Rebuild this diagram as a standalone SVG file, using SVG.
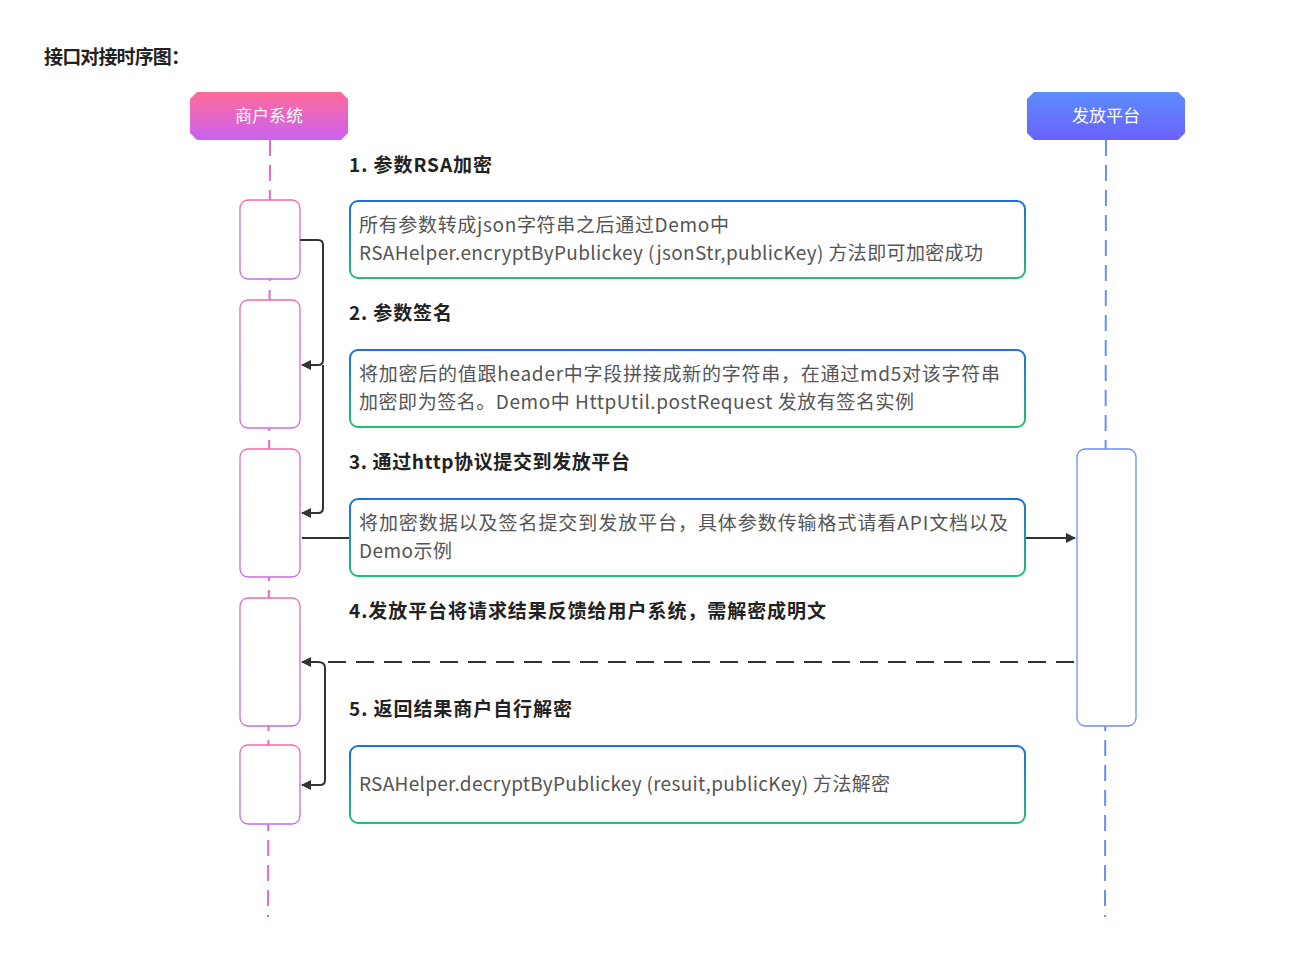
<svg xmlns="http://www.w3.org/2000/svg" width="1297" height="969" viewBox="0 0 1297 969">
<defs>
<linearGradient id="gPink" x1="0" y1="0" x2="0" y2="1"><stop offset="0" stop-color="#ff6b98"/><stop offset="1" stop-color="#c962f2"/></linearGradient>
<linearGradient id="gBlue" x1="0" y1="0" x2="0" y2="1"><stop offset="0" stop-color="#5c8cff"/><stop offset="1" stop-color="#6a62fb"/></linearGradient>
<linearGradient id="gAct" x1="0" y1="0" x2="0" y2="1"><stop offset="0" stop-color="#f06aa8"/><stop offset="1" stop-color="#c86ae6"/></linearGradient>
<linearGradient id="gBox" x1="0" y1="0" x2="0" y2="1"><stop offset="0" stop-color="#1d6ee6"/><stop offset="1" stop-color="#1fbf78"/></linearGradient>
<marker id="ah" viewBox="0 0 10 10" refX="9" refY="5" markerWidth="5" markerHeight="5" orient="auto"><path d="M0,0 L10,5 L0,10 z" fill="#333"/></marker>
</defs>
<style>
.t{font-family:"Noto Sans CJK SC","Noto Sans",sans-serif}
.h{font-size:17px;fill:#fff;text-anchor:middle}
.lbl{font-size:19px;font-weight:bold;fill:#222}
.body{font-size:19px;fill:#555}
.act{fill:#fff;stroke:url(#gAct);stroke-width:1.3}
.box{fill:#fff;stroke:url(#gBox);stroke-width:2}
.c{fill:none;stroke:#333;stroke-width:2;marker-end:url(#ah)}
</style>
<rect width="1297" height="969" fill="#fff"/>
<text class="t" x="44" y="64" font-size="19" font-weight="bold" fill="#222" textLength="146" lengthAdjust="spacing">接口对接时序图：</text>
<g id="lifelines">
<line x1="270" y1="140" x2="268" y2="917" stroke="#e86ab8" stroke-width="2" stroke-dasharray="16,9"/>
<line x1="1106" y1="140" x2="1105" y2="917" stroke="#6a8ef5" stroke-width="2" stroke-dasharray="16,9"/>
</g>
<g id="merchant"><path d="M197,92 H341 L348,99 V133 L341,140 H197 L190,133 V99 Z" fill="url(#gPink)"/><text class="t h" x="269" y="122">商户系统</text></g>
<g id="platform"><path d="M1034,92 H1178 L1185,99 V133 L1178,140 H1034 L1027,133 V99 Z" fill="url(#gBlue)"/><text class="t h" x="1106" y="122">发放平台</text></g>
<g id="activations">
<rect class="act" x="240" y="200" width="60" height="79" rx="8"/>
<rect class="act" x="240" y="300" width="60" height="128" rx="8"/>
<rect class="act" x="240" y="449" width="60" height="128" rx="8"/>
<rect class="act" x="240" y="598" width="60" height="128" rx="8"/>
<rect class="act" x="240" y="745" width="60" height="79" rx="8"/>
<rect x="1077" y="449" width="59" height="277" rx="8" fill="#fff" stroke="#6a8ef5" stroke-width="1.3"/>
</g>
<g id="step1"><text class="t lbl" x="349" y="172" textLength="143" lengthAdjust="spacing">1. 参数RSA加密</text>
<rect class="box" x="350" y="201" width="675" height="77" rx="8"/>
<text class="t body" x="359" y="232" textLength="370" lengthAdjust="spacing">所有参数转成json字符串之后通过Demo中</text>
<text class="t body" x="359" y="260" textLength="624" lengthAdjust="spacing">RSAHelper.encryptByPublickey (jsonStr,publicKey) 方法即可加密成功</text></g>
<g id="step2"><text class="t lbl" x="349" y="320" textLength="103" lengthAdjust="spacing">2. 参数签名</text>
<rect class="box" x="350" y="350" width="675" height="77" rx="8"/>
<text class="t body" x="359" y="381" textLength="641" lengthAdjust="spacing">将加密后的值跟header中字段拼接成新的字符串，在通过md5对该字符串</text>
<text class="t body" x="359" y="409" textLength="555" lengthAdjust="spacing">加密即为签名。Demo中 HttpUtil.postRequest 发放有签名实例</text></g>
<g id="step3"><text class="t lbl" x="349" y="469" textLength="281" lengthAdjust="spacing">3. 通过http协议提交到发放平台</text>
<rect class="box" x="350" y="499" width="675" height="77" rx="8"/>
<text class="t body" x="359" y="530" textLength="649" lengthAdjust="spacing">将加密数据以及签名提交到发放平台，具体参数传输格式请看API文档以及</text>
<text class="t body" x="359" y="558" textLength="93" lengthAdjust="spacing">Demo示例</text></g>
<g id="step4"><text class="t lbl" x="349" y="618" textLength="477" lengthAdjust="spacing">4.发放平台将请求结果反馈给用户系统，需解密成明文</text></g>
<g id="step5"><text class="t lbl" x="349" y="716" textLength="223" lengthAdjust="spacing">5. 返回结果商户自行解密</text>
<rect class="box" x="350" y="746" width="675" height="77" rx="8"/>
<text class="t body" x="359" y="791" textLength="531" lengthAdjust="spacing">RSAHelper.decryptByPublickey (resuit,publicKey) 方法解密</text></g>
<g id="connectors">
<path class="c" d="M300,240 H318 Q323,240 323,245 V360 Q323,365 318,365 H302"/>
<path class="c" d="M323,365 V508 Q323,513 318,513 H302"/>
<line x1="302" y1="538" x2="349" y2="538" stroke="#333" stroke-width="2"/>
<line class="c" x1="1026" y1="538" x2="1075" y2="538"/>
<line class="c" x1="1074" y1="662" x2="302" y2="662" stroke-dasharray="18,10"/>
<path class="c" d="M318,662 Q325,662 325,668 V780 Q325,785 320,785 H302"/>
</g>
</svg>
